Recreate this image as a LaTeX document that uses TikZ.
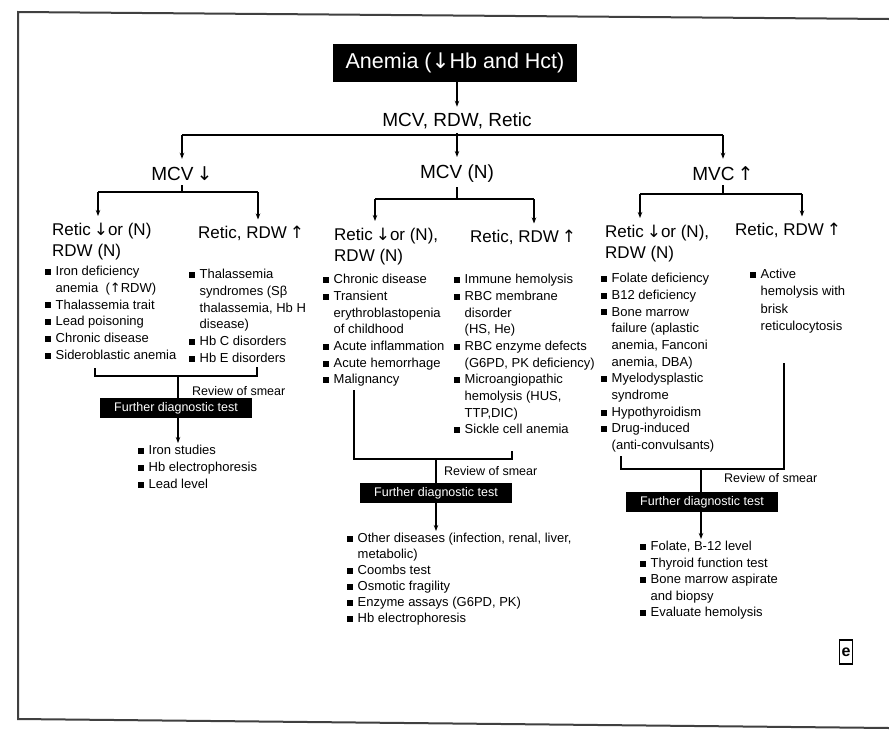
\documentclass[tikz,border=0pt]{standalone}
\usepackage{fontspec}
\setmainfont{Liberation Sans}
\newfontfamily\symfont{DejaVu Sans}
\usetikzlibrary{arrows.meta}
% arrow glyphs and list helpers
\newcommand\dnar{{\symfont\char"2193}}
\newcommand\upar{{\symfont\char"2191}}
\newcommand\bx{\makebox[10.5pt][l]{\rule[0.6pt]{6pt}{6pt}}}
\newcommand\cn{\hspace*{10.5pt}}
\tikzset{
  arr/.style={-{Stealth[length=6pt,width=4.5pt]}, line width=1.2pt, shorten >=2pt},
  ln/.style={line width=1.2pt},
  titlebox/.style={fill=black, text=white, font=\fontsize{21.5}{25}\selectfont,
    minimum width=244pt, minimum height=38pt, inner sep=0pt},
  hd/.style={font=\fontsize{19}{22}\selectfont, inner sep=4pt},
  sub/.style={font=\fontsize{17}{21}\selectfont, align=left, inner sep=0pt},
  lst/.style={font=\fontsize{13}{16.7}\selectfont, align=left, inner sep=0pt, anchor=north west},
  dbox/.style={fill=black, text=white, font=\fontsize{12.5}{14}\selectfont,
    minimum width=152pt, minimum height=20pt, inner sep=0pt},
  rev/.style={font=\fontsize{12.5}{14}\selectfont, anchor=west, inner sep=0pt},
  frame/.style={line width=2pt, draw=black!75},
}
\begin{document}
\begin{tikzpicture}[x=1pt,y=-1pt]
\useasboundingbox (0,0) rectangle (889,742);
\fill[white] (0,0) rectangle (889,742);
% page edge
\draw[frame] (889,19) -- (18,12) -- (18,719) -- (889,728);

% ---- top of the tree
\node[titlebox] (anemia) at (455,63) {Anemia (\dnar Hb and Hct)};
\node[hd] (mrr) at (457,121) {MCV, RDW, Retic};
\draw[arr] (mrr.north |- anemia.south) -- (mrr.north);

\coordinate (j0) at (457,135);
\coordinate (j0l) at (182,135);
\coordinate (j0r) at (723,135);
\draw[ln] (mrr.south) -- (j0);
\draw[ln] (j0l) -- (j0r);

\node[hd] (mcvl) at (182,174) {MCV\,\dnar};
\node[hd] (mcvn) at (457,174) {MCV (N)};
\node[hd] (mcvu) at (723,174) {MVC\,\upar};
\draw[arr, shorten >=4pt] (j0l) -- (mcvl.north);
\draw[arr, shorten >=4pt] (j0) -- (mcvn.north);
\draw[arr, shorten >=4pt] (j0r) -- (mcvu.north);

% ---- second level headings
\node[sub, anchor=north west] (L1) at (52,223) {Retic\,\dnar or (N)\\RDW (N)};
\node[sub, anchor=west] (L2) at (198,233) {Retic, RDW\,\upar};
\node[sub, anchor=north west] (M1) at (334,228) {Retic\,\dnar or (N),\\RDW (N)};
\node[sub, anchor=west] (M2) at (470,237) {Retic, RDW\,\upar};
\node[sub, anchor=north west] (R1) at (605,225) {Retic\,\dnar or (N),\\RDW (N)};
\node[sub, anchor=west] (R2) at (735,230) {Retic, RDW\,\upar};

% left split
\coordinate (bl) at (182,192);
\coordinate (bl1) at (98,192);
\coordinate (bl2) at (258,192);
\draw[ln] (mcvl.south) -- (bl);
\draw[ln] (bl1) -- (bl2);
\draw[arr, shorten >=7pt] (bl1) -- (bl1 |- L1.north);
\draw[arr, shorten >=6pt] (bl2) -- (bl2 |- L2.north);

% middle split
\coordinate (bm) at (457,199);
\coordinate (bm1) at (375,199);
\coordinate (bm2) at (534,199);
\draw[ln] (mcvn.south) -- (bm);
\draw[ln] (bm1) -- (bm2);
\draw[arr, shorten >=7pt] (bm1) -- (bm1 |- M1.north);
\draw[arr, shorten >=6pt] (bm2) -- (bm2 |- M2.north);

% right split
\coordinate (br) at (723,194);
\coordinate (br1) at (640,194);
\coordinate (br2) at (802,194);
\draw[ln] (mcvu.south) -- (br);
\draw[ln] (br1) -- (br2);
\draw[arr, shorten >=7pt] (br1) -- (br1 |- R1.north);
\draw[arr, shorten >=6pt] (br2) -- (br2 |- R2.north);

% ---- causes
\node[lst] (LA) at (45,266) {\bx Iron deficiency\\\cn anemia \ (\upar RDW)\\\bx Thalassemia trait\\\bx Lead poisoning\\\bx Chronic disease\\\bx Sideroblastic anemia};
\node[lst] (LB) at (189,269) {\bx Thalassemia\\\cn syndromes (Sβ\\\cn thalassemia, Hb H\\\cn disease)\\\bx Hb C disorders\\\bx Hb E disorders};
\node[lst] (MA) at (323,274) {\bx Chronic disease\\\bx Transient\\\cn erythroblastopenia\\\cn of childhood\\\bx Acute inflammation\\\bx Acute hemorrhage\\\bx Malignancy};
\node[lst] (MB) at (454,274) {\bx Immune hemolysis\\\bx RBC membrane\\\cn disorder\\\cn (HS, He)\\\bx RBC enzyme defects\\\cn (G6PD, PK deficiency)\\\bx Microangiopathic\\\cn hemolysis (HUS,\\\cn TTP,DIC)\\\bx Sickle cell anemia};
\node[lst] (RA) at (601,273) {\bx Folate deficiency\\\bx B12 deficiency\\\bx Bone marrow\\\cn failure (aplastic\\\cn anemia, Fanconi\\\cn anemia, DBA)\\\bx Myelodysplastic\\\cn syndrome\\\bx Hypothyroidism\\\bx Drug-induced\\\cn (anti-convulsants)};
\node[lst, font=\fontsize{13}{17.3}\selectfont] (RB) at (750,269) {\bx Active\\\cn hemolysis with\\\cn brisk\\\cn reticulocytosis};

% ---- left bracket, tests
\coordinate (la1) at (95,368);
\coordinate (la2) at (95,376);
\coordinate (la3) at (257,376);
\coordinate (la4) at (257,367);
\coordinate (lst) at (178,376);
\draw[ln] (la1) -- (la2) -- (la3) -- (la4);
\node[rev] (lrev) at (192,391) {Review of smear};
\node[dbox] (lbox) at (176,408) {Further diagnostic test};
\draw[ln] (lst) -- (lst |- lbox.north);
\node[lst, font=\fontsize{13}{17}\selectfont] (LC) at (138,445) {\bx Iron studies\\\bx Hb electrophoresis\\\bx Lead level};
\draw[arr] (lst |- lbox.south) -- (lst |- LC.north);

% ---- middle bracket, tests
\coordinate (ma1) at (354,390);
\coordinate (ma2) at (354,459);
\coordinate (ma3) at (512,459);
\coordinate (ma4) at (512,451);
\coordinate (mst) at (436,459);
\draw[ln] (ma1) -- (ma2) -- (ma3) -- (ma4);
\node[rev] (mrev) at (444,471) {Review of smear};
\node[dbox] (mbox) at (436,493) {Further diagnostic test};
\draw[ln] (mst) -- (mbox.north);
\node[lst, font=\fontsize{13}{16}\selectfont] (MC) at (347,533) {\bx Other diseases (infection, renal, liver,\\\cn metabolic)\\\bx Coombs test\\\bx Osmotic fragility\\\bx Enzyme assays (G6PD, PK)\\\bx Hb electrophoresis};
\draw[arr] (mbox.south) -- (mbox.south |- MC.north);

% ---- right bracket, tests
\coordinate (ra1) at (621,456);
\coordinate (ra2) at (621,469);
\coordinate (ra3) at (784,469);
\coordinate (ra4) at (784,363);
\coordinate (rst) at (701,469);
\draw[ln] (ra1) -- (ra2) -- (ra3) -- (ra4);
\node[rev] (rrev) at (724,478) {Review of smear};
\node[dbox] (rbox) at (702,502) {Further diagnostic test};
\draw[ln] (rst) -- (rst |- rbox.north);
\node[lst, font=\fontsize{13}{16.5}\selectfont] (RC) at (640,541) {\bx Folate, B-12 level\\\bx Thyroid function test\\\bx Bone marrow aspirate\\\cn and biopsy\\\bx Evaluate hemolysis};
\draw[arr] (rst |- rbox.south) -- (rst |- RC.north);

% ---- corner mark
\node[draw, line width=1.6pt, inner sep=0pt, minimum width=13pt, minimum height=24pt,
  font=\fontsize{16}{16}\selectfont\bfseries] (mark) at (846,652) {e};
\end{tikzpicture}
\end{document}
